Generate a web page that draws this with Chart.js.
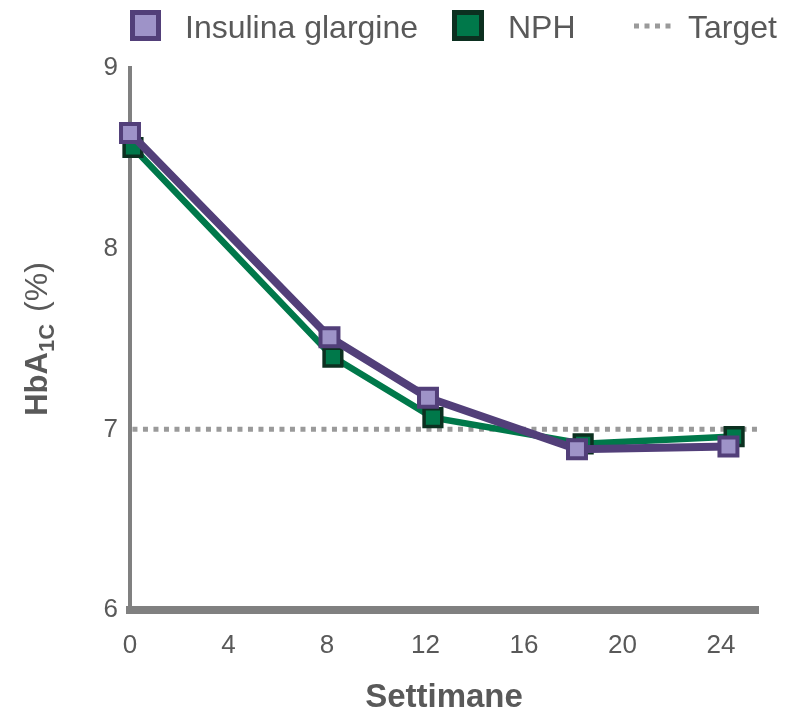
<!DOCTYPE html>
<html>
<head>
<meta charset="utf-8">
<script src="https://cdn.jsdelivr.net/npm/chart.js@4/dist/chart.umd.min.js"></script>
<style>
  html, body { margin: 0; padding: 0; background: #ffffff; }
  #wrap { width: 792px; height: 714px; }
</style>
</head>
<body>
<div id="wrap"><canvas id="c" width="792" height="714"></canvas></div>
<script>
// ---- Data ----
const seriesNames = ['Insulina glargine', 'NPH', 'Target'];
const weeksGlargine = [0, 8.1, 12.1, 18.15, 24.3];
const glargine      = [8.64, 7.51, 7.175, 6.89, 6.905];
const weeksNPH      = [0.12, 8.24, 12.3, 18.4, 24.53];
const nph           = [8.56, 7.40, 7.065, 6.92, 6.96];
const targetWeeks   = [0.1, 25.5];
const targetValue   = [7, 7];
const xTicks = [0, 4, 8, 12, 16, 20, 24];
const yTicks = [6, 7, 8, 9];
const xTitle = 'Settimane';

// ---- Styles ----
const PURPLE = '#523f79', LAVENDER = '#9e93c8';
const GREEN = '#00784a', GREEN_DARK = '#0c3020';
const AXIS = '#808080', TEXT = '#595959', DOT = '#9a9a9a';
const FONT = '"Liberation Sans", Arial, sans-serif';

const toPts = (xs, ys) => xs.map((x, i) => ({ x: x, y: ys[i] }));

const customDraw = {
  id: 'customDraw',
  afterDraw(chart) {
    const ctx = chart.ctx;
    const ca = chart.chartArea;
    ctx.save();
    // Legend
    ctx.textBaseline = 'alphabetic';
    ctx.textAlign = 'left';
    ctx.font = '32px ' + FONT;
    // purple box
    ctx.fillStyle = LAVENDER; ctx.fillRect(132.5, 12.5, 26, 26);
    ctx.strokeStyle = PURPLE; ctx.lineWidth = 5; ctx.strokeRect(132.5, 12.5, 26, 26);
    ctx.fillStyle = TEXT; ctx.fillText(seriesNames[0], 185, 38);
    // green box
    ctx.fillStyle = GREEN; ctx.fillRect(454.5, 12.5, 27, 26);
    ctx.strokeStyle = GREEN_DARK; ctx.lineWidth = 5; ctx.strokeRect(454.5, 12.5, 27, 26);
    ctx.fillStyle = TEXT; ctx.fillText(seriesNames[1], 508, 38);
    // dotted
    ctx.strokeStyle = DOT; ctx.lineWidth = 5; ctx.setLineDash([5, 5.5]);
    ctx.beginPath(); ctx.moveTo(634, 26); ctx.lineTo(674, 26); ctx.stroke();
    ctx.setLineDash([]);
    ctx.fillStyle = TEXT; ctx.fillText(seriesNames[2], 688, 38);

    // Y axis title with subscript
    const cy = (ca.top + ca.bottom) / 2;
    ctx.translate(47, cy);
    ctx.rotate(-Math.PI / 2);
    const p1 = 'HbA', p2 = '1C', p3 = '(%)';
    const f1 = 'bold 31px ' + FONT, f2 = 'bold 22px ' + FONT, f3 = '32px ' + FONT;
    ctx.font = f1; const w1 = ctx.measureText(p1).width;
    ctx.font = f2; const w2 = ctx.measureText(p2).width;
    ctx.font = f3; const w3 = ctx.measureText(p3).width;
    const gap = 12;
    let x = -(w1 + w2 + gap + w3) / 2;
    ctx.fillStyle = TEXT;
    ctx.font = f1; ctx.fillText(p1, x, 0); x += w1;
    ctx.font = f2; ctx.fillText(p2, x, 7); x += w2 + gap;
    ctx.font = f3; ctx.fillText(p3, x, 0);
    ctx.restore();
  }
};

new Chart(document.getElementById('c'), {
  type: 'line',
  data: {
    datasets: [
      {
        label: seriesNames[0],
        data: toPts(weeksGlargine, glargine),
        borderColor: PURPLE, borderWidth: 8,
        pointStyle: 'rect', pointRadius: 12.7,
        pointBackgroundColor: LAVENDER, pointBorderColor: PURPLE, pointBorderWidth: 4,
        tension: 0, clip: false
      },
      {
        label: seriesNames[1],
        data: toPts(weeksNPH, nph),
        borderColor: GREEN, borderWidth: 6.5,
        pointStyle: 'rect', pointRadius: 12.5,
        pointBackgroundColor: GREEN, pointBorderColor: GREEN_DARK, pointBorderWidth: 3.5,
        tension: 0, clip: false
      },
      {
        label: seriesNames[2],
        data: toPts(targetWeeks, targetValue),
        borderColor: DOT, borderWidth: 5, borderDash: [5, 5.5],
        pointRadius: 0, tension: 0, clip: false
      }
    ]
  },
  options: {
    responsive: false,
    animation: false,
    devicePixelRatio: 1,
    layout: { padding: { left: 0, right: 34, top: 68, bottom: 0 } },
    plugins: { legend: { display: false }, tooltip: { enabled: false }, title: { display: false } },
    scales: {
      x: {
        type: 'linear', min: 0, max: 25.5,
        afterBuildTicks: s => { s.ticks = xTicks.map(v => ({ value: v })); },
        afterFit: s => { s.height = 104; },
        grid: { display: false, drawTicks: false },
        border: { display: true, color: AXIS, width: 8 },
        ticks: { color: TEXT, font: { family: FONT, size: 26 }, padding: 20, maxRotation: 0 },
        title: { display: true, text: xTitle, color: TEXT, font: { family: FONT, size: 33, weight: 'bold' }, padding: { top: 0, bottom: -4 } }
      },
      y: {
        min: 6, max: 9,
        afterBuildTicks: s => { s.ticks = yTicks.map(v => ({ value: v })); },
        afterFit: s => { s.width = 130; },
        grid: { display: false, drawTicks: false },
        border: { display: true, color: AXIS, width: 4 },
        ticks: { color: TEXT, font: { family: FONT, size: 26 }, padding: 12 }
      }
    }
  },
  plugins: [customDraw]
});
</script>
</body>
</html>
